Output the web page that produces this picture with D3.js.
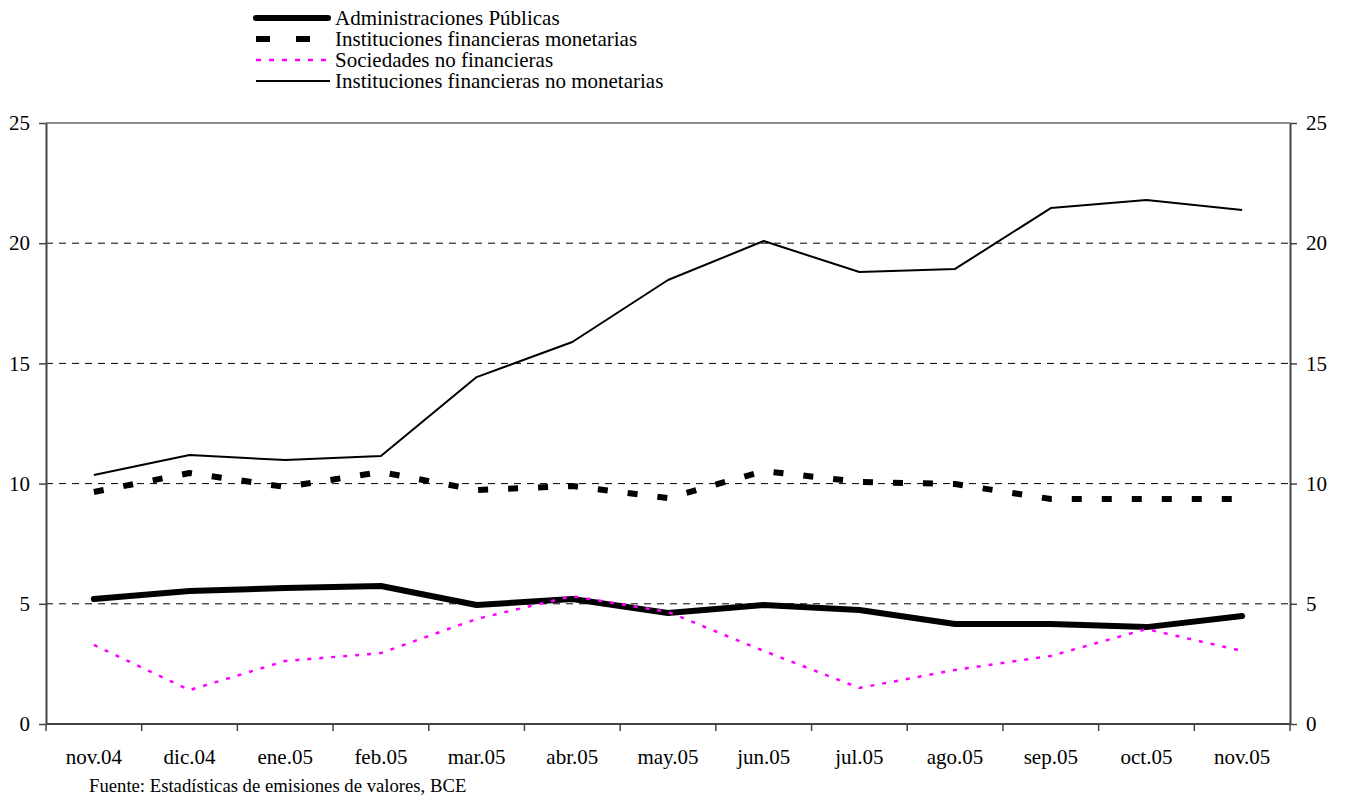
<!DOCTYPE html>
<html>
<head>
<meta charset="utf-8">
<script src="https://cdn.jsdelivr.net/npm/d3@7"></script>
<style>
    body { margin: 0; background: #fff; }
    text { font-family: "Liberation Serif", "Times New Roman", serif; fill: #000; }
</style>
</head>
<body>
<div id="chart"></div>
<script>
'use strict';

// categories
const months = ['nov.04', 'dic.04', 'ene.05', 'feb.05', 'mar.05', 'abr.05', 'may.05',
    'jun.05', 'jul.05', 'ago.05', 'sep.05', 'oct.05', 'nov.05'];

// series values
const adminPublicas = [5.2, 5.53, 5.66, 5.74, 4.95, 5.2, 4.62, 4.95, 4.74, 4.16, 4.16, 4.03, 4.49];
const ifMonetarias = [9.65, 10.44, 9.86, 10.48, 9.73, 9.9, 9.4, 10.52, 10.07, 9.98, 9.36, 9.36, 9.36];
const sociedadesNoFin = [3.29, 1.41, 2.62, 2.95, 4.37, 5.32, 4.66, 3.04, 1.5, 2.25, 2.83, 3.95, 3.04];
const ifNoMonetarias = [10.36, 11.19, 10.98, 11.15, 14.43, 15.89, 18.47, 20.09, 18.8, 18.93, 21.46, 21.8, 21.38];

const yTicks = [0, 5, 10, 15, 20, 25];
const seriesNames = ['Administraciones Públicas', 'Instituciones financieras monetarias',
    'Sociedades no financieras', 'Instituciones financieras no monetarias'];
const sourceNote = 'Fuente: Estadísticas de emisiones de valores, BCE';

// style per series
const styles = [
    {color: '#000', width: 6, dash: null, legendDash: null, cap: 'round'},
    {color: '#000', width: 6, dash: '10,20', legendDash: '14,26', cap: 'butt'},
    {color: '#ff00ff', width: 2.5, dash: '4,8', legendDash: '5,8', cap: 'butt'},
    {color: '#000', width: 2, dash: null, legendDash: null, cap: 'butt'}
];
const allSeries = [adminPublicas, ifMonetarias, sociedadesNoFin, ifNoMonetarias];

const W = 1348, H = 799;
const margin = {top: 123, right: 58, bottom: 75, left: 46};

const svg = d3.select('#chart')
    .append('svg')
    .attr('width', W)
    .attr('height', H);

const x = d3.scaleBand()
    .domain(months)
    .range([margin.left, W - margin.right]);

const y = d3.scaleLinear()
    .domain([0, 25])
    .range([H - margin.bottom, margin.top]);

// gridlines
svg.append('g')
    .selectAll('line')
    .data(yTicks.filter(d => d > 0 && d < 25))
    .join('line')
    .attr('x1', margin.left)
    .attr('x2', W - margin.right)
    .attr('y1', d => y(d))
    .attr('y2', d => y(d))
    .attr('stroke', '#000')
    .attr('stroke-width', 1)
    .attr('stroke-dasharray', '7,6');

// top border
svg.append('line')
    .attr('x1', margin.left)
    .attr('x2', W - margin.right)
    .attr('y1', y(25))
    .attr('y2', y(25))
    .attr('stroke', '#666')
    .attr('stroke-width', 1.5);

// axes
function styleAxis(g) {
    g.select('.domain').attr('stroke', '#444').attr('stroke-width', 2);
    g.selectAll('.tick line').attr('stroke', '#444').attr('stroke-width', 1.5);
    g.selectAll('.tick text')
        .style('font-family', '"Liberation Serif", "Times New Roman", serif')
        .style('font-size', '21px')
        .attr('fill', '#000');
}

svg.append('g')
    .attr('transform', `translate(${margin.left},0)`)
    .call(d3.axisLeft(y).tickValues(yTicks).tickSize(7).tickSizeOuter(0).tickPadding(9))
    .call(styleAxis);

svg.append('g')
    .attr('transform', `translate(${W - margin.right},0)`)
    .call(d3.axisRight(y).tickValues(yTicks).tickSize(7).tickSizeOuter(0).tickPadding(9))
    .call(styleAxis);

// x axis: ticks at band boundaries
const xAxisG = svg.append('g')
    .attr('transform', `translate(0,${H - margin.bottom})`);
xAxisG.append('line')
    .attr('x1', margin.left)
    .attr('x2', W - margin.right)
    .attr('stroke', '#444')
    .attr('stroke-width', 2);
xAxisG.selectAll('.bound')
    .data(months.concat(['end']))
    .join('line')
    .attr('class', 'bound')
    .attr('x1', (d, i) => i < months.length ? x(d) : x.range()[1])
    .attr('x2', (d, i) => i < months.length ? x(d) : x.range()[1])
    .attr('y1', 0)
    .attr('y2', 7)
    .attr('stroke', '#444')
    .attr('stroke-width', 1.5);
xAxisG.selectAll('.lbl')
    .data(months)
    .join('text')
    .attr('class', 'lbl')
    .attr('x', d => x(d) + x.bandwidth() / 2)
    .attr('y', 40)
    .attr('text-anchor', 'middle')
    .style('font-size', '21px')
    .text(d => d);

// lines
const lineMaker = d3.line()
    .x((d, i) => x(months[i]) + x.bandwidth() / 2)
    .y(d => y(d));

// draw order: magenta under the thick black
const drawOrder = [3, 1, 0, 2];
drawOrder.forEach(k => {
    const s = styles[k];
    svg.append('path')
        .datum(allSeries[k])
        .attr('fill', 'none')
        .attr('stroke', s.color)
        .attr('stroke-width', s.width)
        .attr('stroke-linejoin', 'round')
        .attr('stroke-linecap', s.cap)
        .attr('stroke-dasharray', s.dash)
        .attr('d', lineMaker);
});

// legend
const legend = svg.append('g')
    .attr('transform', 'translate(254,18)');
seriesNames.forEach((name, i) => {
    const s = styles[i];
    const row = legend.append('g')
        .attr('transform', `translate(0,${i * 21})`);
    row.append('line')
        .attr('x1', 2)
        .attr('x2', i === 0 ? 74 : 76)
        .attr('stroke', s.color)
        .attr('stroke-width', s.width)
        .attr('stroke-linecap', s.cap)
        .attr('stroke-dasharray', s.legendDash);
    row.append('text')
        .attr('x', 81)
        .attr('y', 7)
        .style('font-size', '21px')
        .text(name);
});

// source note
svg.append('text')
    .attr('x', 89)
    .attr('y', 792)
    .style('font-size', '18.7px')
    .text(sourceNote);
</script>
</body>
</html>
